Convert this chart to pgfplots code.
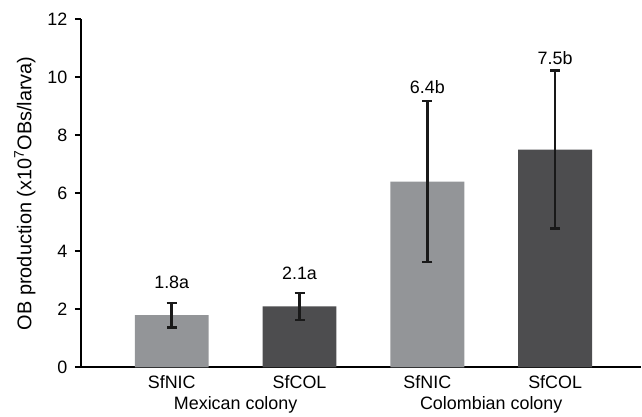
\documentclass[border=0pt]{standalone}
\usepackage{fontspec}
\setmainfont{Liberation Sans}
\usepackage{pgfplots}
\pgfplotsset{compat=1.18}
\definecolor{lightbar}{HTML}{939598}
\definecolor{darkbar}{HTML}{4D4D4F}
\begin{document}
\begin{tikzpicture}
\begin{axis}[name=ax, scale only axis, width=561bp, height=349bp,
  xmin=-0.711, xmax=3.672, ymin=0, ymax=12,
  axis lines*=left,
  axis line style={line width=2bp, black},
  tick style={line width=2bp, black},
  tick align=outside, major tick length=6bp,
  ytick={0,2,...,12},
  /pgf/number format/assume math mode=true,
  yticklabel style={font=\fontsize{18}{21}\selectfont, xshift=-4bp},
  xtick={0,1,2,3}, xticklabels={SfNIC,SfCOL,SfNIC,SfCOL},
  xtick style={draw=none},
  xticklabel style={font=\fontsize{18}{21}\selectfont, yshift=1bp},
  extra x ticks={0.5,2.5},
  extra x tick labels={Mexican colony,Colombian colony},
  extra x tick style={tick label style={yshift=-21bp}},
  ylabel={OB production (x10\textsuperscript{7}OBs/larva)},
  every axis y label/.style={at={(axis description cs:0,0.5)}, xshift=-56bp, rotate=90, anchor=center, font=\fontsize{20}{24}\selectfont},
  clip=false,
]
\addplot[ybar, bar width=0.578, bar shift=0pt, fill=lightbar, draw=none,
  error bars/.cd, y dir=both, y explicit,
  error bar style={line width=2.6bp, black!90},
  error mark options={rotate=90, mark size=5bp, line width=2.6bp, black!90}]
  table[x=x, y=y, y error=e] {
x y e
0 1.8 0.42
2 6.4 2.77
};
\addplot[ybar, bar width=0.578, bar shift=0pt, fill=darkbar, draw=none,
  error bars/.cd, y dir=both, y explicit,
  error bar style={line width=2.6bp, black!90},
  error mark options={rotate=90, mark size=5bp, line width=2.6bp, black!90}]
  table[x=x, y=y, y error=e] {
x y e
1 2.1 0.47
3 7.5 2.72
};
\addplot[draw=none, nodes near coords, point meta=explicit symbolic,
  nodes near coords style={anchor=center, font=\fontsize{18}{21}\selectfont, black}]
  table[x=x, y=y, meta=l] {
x y l
0 2.92 1.8a
1 3.23 2.1a
2 9.67 6.4b
3 10.65 7.5b
};
\end{axis}
\path ([xshift=-81bp,yshift=-48bp]ax.south west) rectangle ([yshift=19bp]ax.north east);
\end{tikzpicture}
\end{document}
